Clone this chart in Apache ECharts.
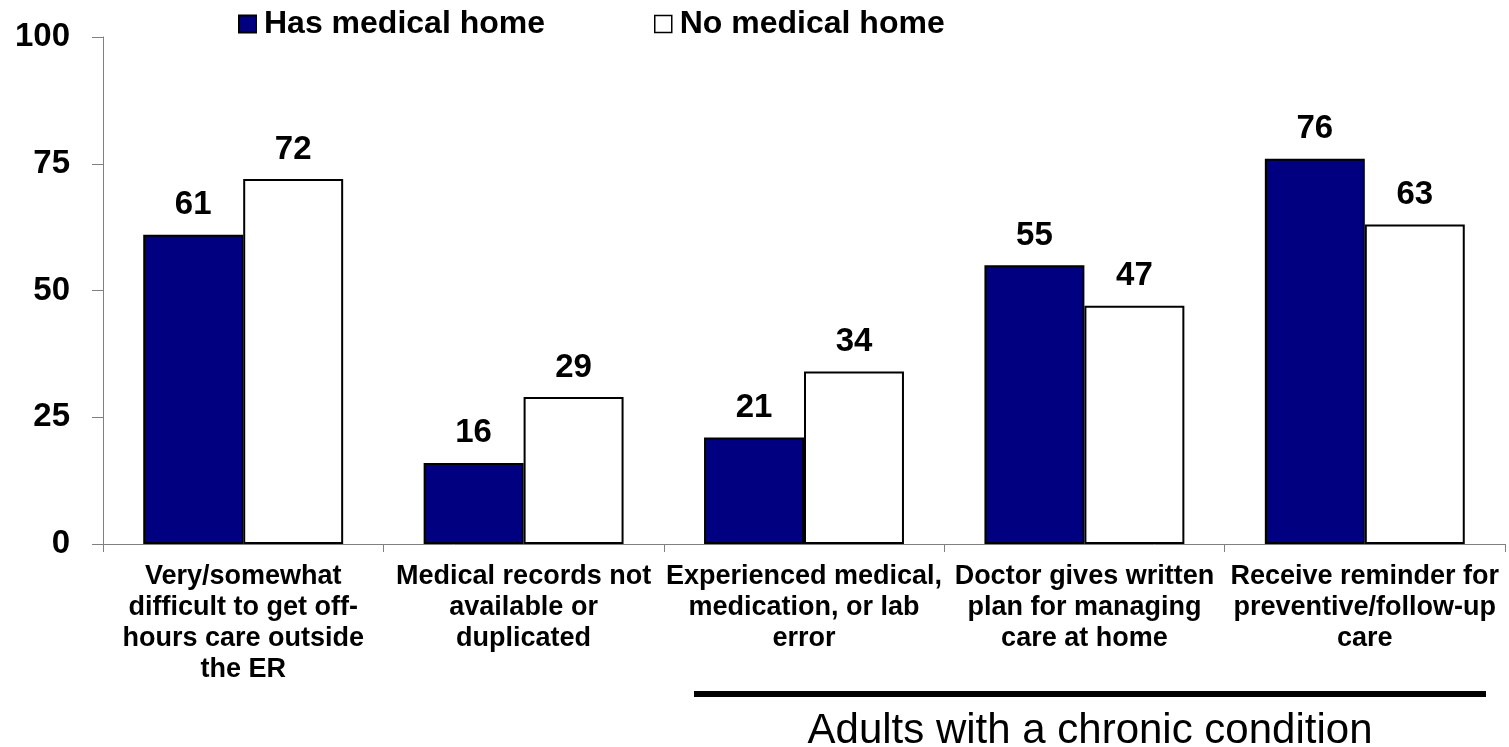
<!DOCTYPE html>
<html>
<head>
<meta charset="utf-8">
<script src="https://cdn.jsdelivr.net/npm/echarts@6/dist/echarts.min.js"></script>
<style>
html,body{margin:0;padding:0;background:#fff;}
#chart{width:1509px;height:747px;}
</style>
</head>
<body>
<div id="chart"></div>
<script>
var categories = [
  "Very/somewhat\ndifficult to get off-\nhours care outside\nthe ER",
  "Medical records not\navailable or\nduplicated",
  "Experienced medical,\nmedication, or lab\nerror",
  "Doctor gives written\nplan for managing\ncare at home",
  "Receive reminder for\npreventive/follow-up\ncare"
];
var hasMedicalHome = [61, 16, 21, 55, 76];
var noMedicalHome = [72, 29, 34, 47, 63];
var seriesNames = ["Has medical home", "No medical home"];
var groupNote = "Adults with a chronic condition";

var FONT = "'Liberation Sans', Arial, sans-serif";
var chart = echarts.init(document.getElementById('chart'));

var labelCfg = {
  show: true, position: 'top', distance: 13,
  fontFamily: FONT, fontWeight: 'bold', fontSize: 33, color: '#000'
};

chart.setOption({
  animation: false,
  backgroundColor: '#fff',
  grid: { left: 103, right: 4, top: 37, bottom: 203, containLabel: false },
  legend: [
    { data: [seriesNames[0]], left: 238, top: 8, padding: 0, icon: 'rect',
      itemWidth: 17, itemHeight: 17, itemGap: 0,
      textStyle: { fontFamily: FONT, fontWeight: 'bold', fontSize: 32, color: '#000', padding: [0,0,0,3] } },
    { data: [seriesNames[1]], left: 654, top: 8, padding: 0, icon: 'rect',
      itemWidth: 17, itemHeight: 17, itemGap: 0,
      itemStyle: { borderWidth: 1.5, borderColor: '#000' },
      textStyle: { fontFamily: FONT, fontWeight: 'bold', fontSize: 32, color: '#000', padding: [0,0,0,3] } }
  ],
  xAxis: {
    type: 'category',
    data: categories,
    axisLine: { lineStyle: { color: '#808080', width: 1 } },
    axisTick: { show: true, length: 8, lineStyle: { color: '#808080' } },
    axisLabel: {
      interval: 0, margin: 17, hideOverlap: false,
      fontFamily: FONT, fontWeight: 'bold', fontSize: 27, lineHeight: 31, color: '#000', align: 'center'
    }
  },
  yAxis: {
    type: 'value', min: 0, max: 100, interval: 25,
    axisLine: { show: true, lineStyle: { color: '#808080', width: 1 } },
    axisTick: { show: true, length: 11, lineStyle: { color: '#808080' } },
    splitLine: { show: false },
    axisLabel: { margin: 33, fontFamily: FONT, fontWeight: 'bold', fontSize: 33, color: '#000' }
  },
  series: [
    { name: seriesNames[0], type: 'bar', data: hasMedicalHome,
      barGap: '0%', barCategoryGap: '28.7%',
      itemStyle: { color: '#000080', borderColor: '#000', borderWidth: 2 },
      label: labelCfg },
    { name: seriesNames[1], type: 'bar', data: noMedicalHome,
      barGap: '0%', barCategoryGap: '28.7%',
      itemStyle: { color: '#ffffff', borderColor: '#000', borderWidth: 2 },
      label: labelCfg }
  ],
  graphic: [
    { type: 'line', shape: { x1: 694, y1: 694, x2: 1486, y2: 694 },
      style: { stroke: '#000', lineWidth: 6 } },
    { type: 'text', x: 1090, y: 731,
      style: { text: groupNote, fontFamily: FONT, fontSize: 42, fill: '#000',
               textAlign: 'center', textVerticalAlign: 'middle' } }
  ]
});
</script>
</body>
</html>
